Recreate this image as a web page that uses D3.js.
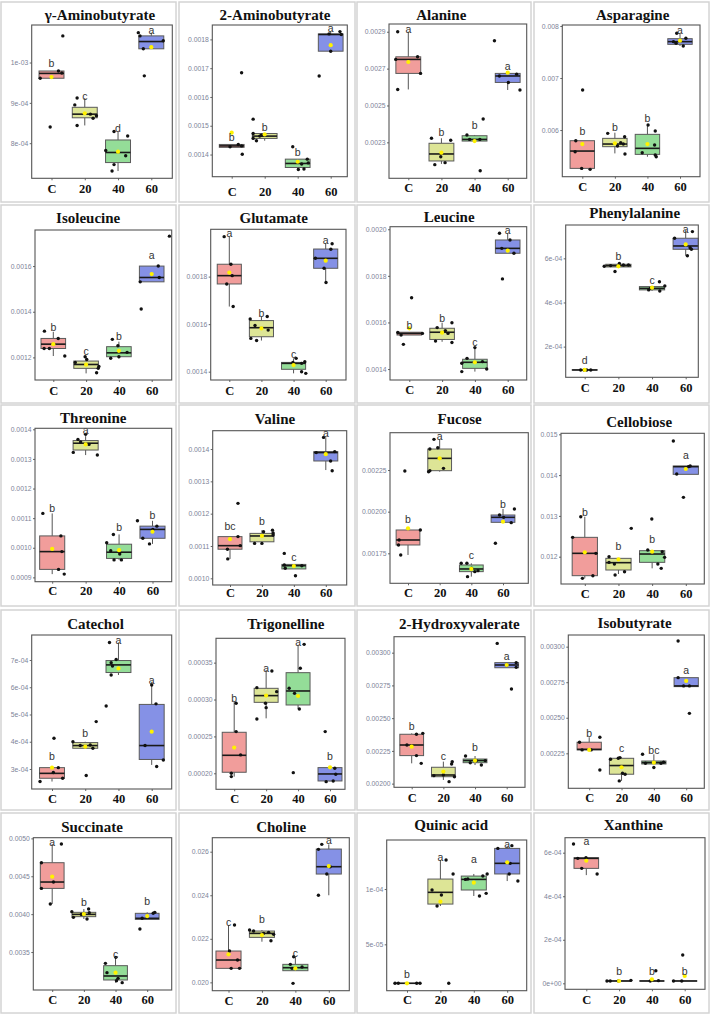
<!DOCTYPE html>
<html><head><meta charset="utf-8">
<script src="https://cdn.jsdelivr.net/npm/d3@7"></script>
<style>body{margin:0;background:#fff}svg{display:block}</style>
</head><body>
<script>
// ---------------- DATA ----------------
const titles = ["γ-Aminobutyrate","2-Aminobutyrate","Alanine","Asparagine",
  "Isoleucine","Glutamate","Leucine","Phenylalanine",
  "Threonine","Valine","Fucose","Cellobiose",
  "Catechol","Trigonelline","2-Hydroxyvalerate","Isobutyrate",
  "Succinate","Choline","Quinic acid","Xanthine"];
const groups = ["C","20","40","60"];

const yTickValues = [
  [0.0008,0.0009,0.001],[0.0014,0.0015,0.0016,0.0017,0.0018],[0.0023,0.0025,0.0027,0.0029],[0.006,0.007,0.008],
  [0.0012,0.0014,0.0016],[0.0014,0.0016,0.0018],[0.0014,0.0016,0.0018,0.002],[0.0002,0.0004,0.0006],
  [0.0009,0.001,0.0011,0.0012,0.0013,0.0014],[0.001,0.0011,0.0012,0.0013,0.0014],[0.00175,0.002,0.00225],[0.012,0.013,0.014,0.015],
  [0.0003,0.0004,0.0005,0.0006,0.0007],[0.0002,0.00025,0.0003,0.00035],[0.002,0.00225,0.0025,0.00275,0.003],[0.00225,0.0025,0.00275,0.003],
  [0.0035,0.004,0.0045,0.005],[0.02,0.022,0.024,0.026],[0.00005,0.0001],[0,0.0002,0.0004,0.0006]];
const yTickLabels = [
  ["8e-04","9e-04","1e-03"],["0.0014","0.0015","0.0016","0.0017","0.0018"],["0.0023","0.0025","0.0027","0.0029"],["0.006","0.007","0.008"],
  ["0.0012","0.0014","0.0016"],["0.0014","0.0016","0.0018"],["0.0014","0.0016","0.0018","0.0020"],["2e-04","4e-04","6e-04"],
  ["0.0009","0.0010","0.0011","0.0012","0.0013","0.0014"],["0.0010","0.0011","0.0012","0.0013","0.0014"],["0.00175","0.00200","0.00225"],["0.012","0.013","0.014","0.015"],
  ["3e-04","4e-04","5e-04","6e-04","7e-04"],["0.00020","0.00025","0.00030","0.00035"],["0.00200","0.00225","0.00250","0.00275","0.00300"],["0.00225","0.00250","0.00275","0.00300"],
  ["0.0035","0.0040","0.0045","0.0050"],["0.020","0.022","0.024","0.026"],["5e-05","1e-04"],["0e+00","2e-04","4e-04","6e-04"]];
const yDomains = [
  [0.000713,0.001093],[0.001323,0.00185],[0.002105,0.002942],[0.005103,0.008019],
  [0.001101,0.001758],[0.001365,0.001999],[0.001353,0.002011],[0.000061,0.000751],
  [0.0008854,0.0014034],[0.0009793,0.0014567],[0.00157,0.002474],[0.01133,0.015025],
  [0.0002266,0.0007917],[0.0001783,0.000383],[0.001972,0.003122],[0.002004,0.003082],
  [0.002999,0.005009],[0.019617,0.026643],[0.0000081,0.0001443],[-0.0000275,0.0006689]];

// box stats per group: [lower whisker, q1, median, q3, upper whisker]
const boxStats = [
  [[0.000961,0.000961,0.000973,0.000979,0.000979],[0.000844,0.000863,0.000872,0.000889,0.000912],[0.000731,0.000752,0.000777,0.000808,0.000829],[0.001034,0.001034,0.001052,0.001066,0.001074]],
  [[0.001425,0.001425,0.00143,0.001435,0.001435],[0.001448,0.001456,0.001464,0.001473,0.001473],[0.001348,0.001355,0.001369,0.001384,0.001384],[0.001759,0.001759,0.001817,0.001819,0.001827]],
  [[0.002587,0.002674,0.00275,0.002764,0.0029],[0.002183,0.002199,0.002237,0.002295,0.002322],[0.002307,0.002307,0.002316,0.002336,0.00234],[0.002584,0.002625,0.00266,0.002674,0.002674]],
  [[0.005244,0.005263,0.005596,0.005795,0.005795],[0.005551,0.00568,0.005731,0.00584,0.005949],[0.005487,0.005532,0.005648,0.005917,0.006096],[0.007615,0.007647,0.007699,0.007756,0.007859]],
  [[0.001206,0.001239,0.001258,0.001283,0.001312],[0.00113,0.001152,0.001169,0.001184,0.001203],[0.001196,0.001203,0.00122,0.001247,0.001269],[0.001531,0.001531,0.00155,0.0016,0.0016]],
  [[0.001674,0.001769,0.001804,0.001852,0.001968],[0.001531,0.001547,0.001585,0.001615,0.001632],[0.001393,0.00141,0.001435,0.001439,0.001456],[0.001775,0.001835,0.001877,0.001916,0.00194]],
  [[0.001546,0.001546,0.001553,0.001558,0.001558],[0.001517,0.001527,0.001558,0.001575,0.001599],[0.001389,0.001403,0.001429,0.001442,0.001492],[0.001897,0.001897,0.001918,0.001954,0.001983]],
  [[0.0000943,0.0000943,0.0000943,0.0000943,0.0000943],[0.000561,0.000561,0.000567,0.000573,0.000577],[0.000452,0.000457,0.000464,0.000472,0.000475],[0.000612,0.000641,0.000656,0.000691,0.000728]],
  [[0.000911,0.000927,0.000987,0.00104,0.001116],[0.001313,0.00133,0.001353,0.001362,0.001377],[0.000959,0.000964,0.000985,0.001012,0.001045],[0.001013,0.001032,0.001062,0.001073,0.001091]],
  [[0.00106,0.00109,0.001101,0.001129,0.001129],[0.001108,0.001113,0.001131,0.001139,0.001149],[0.001029,0.001029,0.001039,0.001043,0.001043],[0.001335,0.001363,0.001389,0.001392,0.001436]],
  [[0.00174,0.0018,0.00183,0.00189,0.00189],[0.00224,0.002246,0.00232,0.002376,0.002434],[0.00161,0.00164,0.001656,0.00168,0.00169],[0.001934,0.001936,0.001966,0.00198,0.002016]],
  [[0.011469,0.011534,0.012082,0.012474,0.01298],[0.011575,0.011673,0.011853,0.011959,0.011959],[0.011714,0.011861,0.012065,0.012147,0.012147],[0.014019,0.014019,0.014207,0.014223,0.014223]],
  [[0.000254,0.000266,0.000284,0.000305,0.000305],[0.000376,0.000376,0.000386,0.000397,0.0004],[0.000645,0.000654,0.000682,0.000698,0.000764],[0.000315,0.000335,0.000386,0.000537,0.00062]],
  [[0.0001955,0.0002014,0.0002244,0.0002556,0.000297],[0.0002745,0.0002962,0.0003053,0.0003152,0.00034],[0.0002872,0.0002926,0.0003116,0.0003364,0.000374],[0.0001887,0.0001896,0.0001991,0.0002077,0.0002077]],
  [[0.002155,0.002214,0.002295,0.002377,0.002384],[0.002028,0.002053,0.002066,0.002125,0.002168],[0.002142,0.00216,0.002176,0.002188,0.002211],[0.002885,0.002885,0.002906,0.002924,0.002924]],
  [[0.002274,0.002274,0.002278,0.002328,0.002363],[0.002056,0.002103,0.002164,0.002215,0.00222],[0.002175,0.002175,0.002185,0.002196,0.002243],[0.002719,0.002719,0.002724,0.002782,0.002782]],
  [[0.004134,0.00434,0.004424,0.004679,0.004925],[0.003936,0.003967,0.003997,0.004024,0.004068],[0.003096,0.003131,0.003184,0.00332,0.003439],[0.003931,0.003931,0.003945,0.004011,0.004024]],
  [[0.020643,0.020643,0.021026,0.021439,0.022633],[0.021867,0.022066,0.02225,0.022357,0.022403],[0.020536,0.020536,0.020673,0.020827,0.021179],[0.024,0.024974,0.025311,0.026122,0.026337]],
  [[0.0000148,0.0000148,0.0000148,0.0000148,0.0000148],[0.0000846,0.0000864,0.000097,0.000109,0.0001262],[0.0000937,0.0000991,0.0001087,0.0001117,0.0001136],[0.0001072,0.0001136,0.0001232,0.0001367,0.000139]],
  [[0.000497,0.000528,0.000574,0.000577,0.000577],[0.0000107,0.0000107,0.0000107,0.0000107,0.0000107],[0.0000107,0.0000107,0.0000107,0.0000107,0.0000107],[0.0000107,0.0000107,0.0000107,0.0000107,0.0000107]]];

const means = [
  [0.000964,0.000874,0.000779,0.001038],[0.001476,0.00147,0.001375,0.00178],[0.002736,0.002244,0.002307,0.002678],[0.005731,0.005744,0.005731,0.007718],
  [0.001258,0.001168,0.001229,0.001565],[0.001817,0.001582,0.001428,0.001867],[0.001575,0.001556,0.001429,0.001908],[0.0000943,0.000564,0.000467,0.000663],
  [0.000996,0.001349,0.000992,0.001054],[0.001121,0.001131,0.001038,0.001384],[0.0019,0.00232,0.001656,0.00194],[0.012106,0.011935,0.012123,0.01415],
  [0.000305,0.000382,0.000669,0.000437],[0.0002348,0.0003053,0.0003048,0.0002081],[0.002282,0.002092,0.002176,0.002906],[0.002274,0.002152,0.002185,0.002759],
  [0.004494,0.004002,0.003228,0.003975],[0.021286,0.022173,0.020643,0.025342],[0.0000148,0.0000886,0.0001057,0.0001241],[0.000563,0.0000107,0.0000184,0.0000337]];

const pointValues = [
  [[0.000961,0.00084,0.000979,0.000974,0.001066],[0.000895,0.000912,0.000844,0.000872,0.000862,0.000868],[0.000782,0.000829,0.000747,0.000731,0.000769,0.000818],[0.001074,0.001066,0.001034,0.000967,0.001054]],
  [[0.001427,0.001435,0.00143,0.001401,0.001684],[0.001523,0.001473,0.001456,0.001448,0.001464,0.001467],[0.001427,0.001348,0.001367,0.00135,0.001384,0.001371],[0.001673,0.001819,0.001759,0.001827,0.001817]],
  [[0.0029,0.00275,0.002587,0.002764,0.002674],[0.002322,0.002179,0.002222,0.00219,0.002311],[0.00234,0.002316,0.002316,0.002427,0.002146],[0.002851,0.00266,0.002625,0.00267,0.002584]],
  [[0.005795,0.005583,0.005263,0.005244,0.006769],[0.005936,0.005692,0.005756,0.005872,0.005538,0.005731],[0.005564,0.006096,0.005712,0.005519,0.005487,0.005981],[0.007859,0.007699,0.007667,0.007615,0.007763]],
  [[0.001315,0.001239,0.001239,0.001283,0.001206],[0.001178,0.001203,0.001191,0.001133,0.001152,0.00116],[0.001196,0.001279,0.001251,0.001203,0.001222],[0.001531,0.001412,0.0016,0.00155,0.001731]],
  [[0.001968,0.001852,0.001804,0.001769,0.001674],[0.001622,0.00154,0.001594,0.001531,0.001632,0.001575],[0.001439,0.001456,0.001435,0.001442,0.0014,0.001393],[0.001877,0.001835,0.001775,0.001915,0.001938]],
  [[0.001557,0.001546,0.001506,0.001706,0.001553],[0.00152,0.001578,0.001565,0.001553,0.001599,0.001514],[0.001425,0.001389,0.001446,0.001492,0.001432,0.0014],[0.001983,0.001918,0.001787,0.001954,0.001897]],
  [[0.0000943,0.0000943,0.0000943,0.0000943],[0.000564,0.00054,0.000577,0.00057,0.00057,0.000567],[0.000457,0.000494,0.000452,0.000475,0.000464],[0.000691,0.000612,0.000648,0.000641,0.000721]],
  [[0.001116,0.00104,0.000987,0.000927,0.000911],[0.001322,0.001366,0.001357,0.001383,0.001349,0.001313],[0.001017,0.00099,0.001045,0.000959,0.000979,0.000959],[0.001091,0.001032,0.001013,0.001062,0.001073]],
  [[0.00109,0.00106,0.001129,0.001101,0.001232],[0.001108,0.001108,0.001144,0.001149,0.001134,0.00114],[0.001077,0.001041,0.001031,0.001008,0.001039],[0.001389,0.001436,0.001363,0.001333,0.001392]],
  [[0.0018,0.00183,0.00174,0.002244,0.00189],[0.00224,0.002246,0.002376,0.002434,0.002384,0.00226],[0.00169,0.00169,0.00161,0.00166,0.00164,0.001646],[0.00181,0.00198,0.001966,0.001934,0.002016]],
  [[0.012474,0.01298,0.011469,0.011534,0.012082],[0.012,0.01186,0.011818,0.011551,0.011632,0.012695],[0.012163,0.012924,0.01182,0.011714,0.012123,0.011984],[0.014837,0.014027,0.013455,0.014207,0.014223]],
  [[0.000254,0.000287,0.000413,0.000305,0.000266],[0.0004,0.000386,0.000276,0.000388,0.000376,0.000474],[0.000531,0.000764,0.00069,0.000645,0.000678,0.000702],[0.000386,0.000608,0.000539,0.000309,0.000333]],
  [[0.0002,0.0001955,0.0002565,0.0002949,0.0002249],[0.0003161,0.0002736,0.0002949,0.000289,0.0003387,0.0003107],[0.0003152,0.0002009,0.0003084,0.0002872,0.0003423,0.0003748],[0.0002565,0.0001896,0.0002068,0.0001987,0.0001887]],
  [[0.002295,0.002214,0.002377,0.002155,0.002384],[0.002061,0.002066,0.002015,0.00215,0.002168,0.002053],[0.002211,0.00216,0.002176,0.002142,0.002176],[0.003071,0.002906,0.002723,0.002924,0.002888]],
  [[0.002328,0.002274,0.002274,0.002363,0.002133],[0.002208,0.002215,0.002056,0.00211,0.002103,0.00222],[0.002243,0.00218,0.00215,0.00218,0.002187],[0.00304,0.002782,0.002724,0.002724,0.002531]],
  [[0.004679,0.00434,0.004134,0.004424,0.004925],[0.004033,0.003958,0.003997,0.003936,0.004068,0.004019],[0.003351,0.003228,0.00343,0.003122,0.003153,0.003096],[0.003804,0.003945,0.004011,0.004024]],
  [[0.021439,0.020643,0.022633,0.021026,0.020643],[0.022403,0.022357,0.02225,0.022296,0.021913,0.022204],[0.020827,0.020643,0.021179,0.019954,0.020704],[0.024,0.026107,0.026337,0.024974,0.025311]],
  [[0.0000148,0.0000148,0.0000148,0.0000148],[0.0000991,0.0000846,0.0000946,0.0001262,0.0000148,0.0001136],[0.0001087,0.000109,0.0000937,0.0001117,0.0000961,0.0001136],[0.0001367,0.0001136,0.0001232,0.0001392,0.0001072]],
  [[0.00064,0.000574,0.000528,0.000502,0.000577],[0.0000107,0.0000107,0.0000107,0.0000137],[0.0000107,0.000058,0.0000122],[0.0000107,0.0000107,0.00013]]];

const letters = [
  ["b","c","d","a"],["b","b","b","a"],["a","b","b","a"],["b","b","b","a"],
  ["b","c","b","a"],["a","b","c","a"],["b","b","c","a"],["d","b","c","a"],
  ["b","a","b","b"],["bc","b","c","a"],["b","a","c","b"],["b","b","b","a"],
  ["b","b","a","a"],["b","a","a","b"],["b","c","b","a"],["b","c","bc","a"],
  ["a","b","c","b"],["c","b","c","a"],["b","a","a","a"],["a","b","b","b"]];
const letterValues = [
  [0.000997,0.000916,0.000837,0.001079],[0.001459,0.001493,0.001406,0.001838],[0.002913,0.002352,0.00239,0.00271],[0.005968,0.006051,0.006224,0.00791],
  [0.001331,0.001228,0.001293,0.001648],[0.001982,0.001646,0.001474,0.001954],[0.001586,0.001618,0.001513,0.001994],[0.00014,0.000611,0.000502,0.000733],
  [0.001133,0.001395,0.001069,0.001111],[0.001162,0.001175,0.001065,0.001448],[0.001954,0.002454,0.001736,0.002044],[0.013079,0.012245,0.012425,0.014493],
  [0.000345,0.000431,0.000773,0.000624],[0.0003017,0.0003423,0.0003771,0.0002235],[0.00244,0.002206,0.002277,0.002975],[0.002391,0.002285,0.002269,0.002836],
  [0.004947,0.004156,0.003474,0.004164],[0.02274,0.022893,0.021332,0.026505],[0.0000232,0.0001286,0.0001271,0.0001407],[0.00065,0.0000566,0.0000566,0.0000566]];

// ---------------- LAYOUT (not data) ----------------
// horizontal jitter of each point, in units of the group step
const jitter = [
  [[-0.34,-0.04,0.21,0.31,0.34],[-0.3,-0.23,-0.23,0.17,0.25,0.35],[-0.37,-0.12,-0.12,-0.18,0.23,0.29],[-0.39,-0.34,-0.24,-0.21,0.36]],
  [[-0.05,0.2,0.3,0.32,0.3],[-0.35,-0.35,-0.35,-0.25,-0.15,-0.1],[-0.15,0.02,0.12,0.19,0.29,0.32],[-0.35,-0.05,0,0.28,0.32]],
  [[-0.32,-0.38,-0.32,0.28,0.37],[-0.3,-0.2,-0.02,0.11,0.28],[-0.23,-0.15,0.16,0.26,0.17],[-0.4,-0.25,0.02,0.27,0.37]],
  [[-0.2,-0.22,-0.02,0.24,0.01],[-0.22,0.08,0.18,0.3,0.31,0.26],[-0.16,0.02,0.22,0.24,0.27,0.24],[-0.1,-0.2,-0.12,0.1,0.18]],
  [[-0.27,-0.28,-0.12,0.15,0.35],[-0.33,-0.03,0.02,0.32,0.37,0.39],[-0.25,-0.2,-0.03,0,0.25],[-0.35,-0.32,0.2,0.23,0.54]],
  [[-0.16,0.05,0.09,-0.08,0.12],[-0.35,-0.33,-0.2,-0.15,0.18,0.21],[-0.02,0.08,0.25,0.35,0.25,0.38],[-0.32,-0.05,0.01,0.16,0.2]],
  [[-0.35,-0.25,-0.18,0.07,0.4],[-0.2,-0.15,0.1,0.18,0.3,0.3],[-0.4,-0.4,-0.24,0,0.23,0.36],[-0.25,-0.18,-0.16,0.07,0.19]],
  [[-0.12,-0.02,0.06,0.18],[-0.42,-0.1,0.03,0.15,0.3,-0.23],[-0.1,0.22,0.23,0.38,-0.05],[-0.33,0.05,0.13,0.17,0.2]],
  [[-0.28,0.26,0.29,0.19,0.36],[-0.37,-0.23,-0.15,0,0.1,0.35],[-0.37,-0.25,-0.17,-0.15,0.02,0.07],[-0.45,-0.29,-0.09,0.01,0.13]],
  [[-0.08,-0.07,0.25,0.32,0.25],[-0.23,0,0.05,0.33,0.35,0.35],[-0.3,-0.3,-0.27,0.05,0.25],[-0.3,-0.07,0.15,0.2,0.28]],
  [[-0.3,-0.28,-0.23,-0.1,0.39],[-0.35,-0.31,-0.31,-0.18,-0.06,0.12],[-0.32,-0.14,-0.12,0.01,0.11,0.21],[-0.24,-0.11,0.02,0.26,0.36]],
  [[-0.36,-0.12,-0.07,0.24,0.33],[-0.28,-0.28,-0.12,-0.1,0.18,0.38],[-0.13,-0.01,0.17,0.27,0.3,0.37],[-0.37,-0.27,-0.07,0.08,0.13]],
  [[-0.36,0.04,0.06,0.19,0.32],[-0.37,-0.15,0.03,0.15,0.23,0.33],[-0.37,-0.27,-0.22,-0.22,-0.18,-0.07],[-0.2,0,0.13,0.15,0.35]],
  [[-0.09,-0.09,0.06,0.06,0.2],[-0.29,-0.29,-0.02,0,0.18,0.33],[-0.28,-0.15,-0.11,0.04,0.07,0.19],[-0.15,0.1,0.15,0.18,-0.12]],
  [[-0.15,0.15,0.15,0.3,0.35],[-0.3,0,0.18,0.26,0.28,0.35],[-0.3,-0.15,0.04,0.2,0.32],[-0.3,0,0.15,0.3,0.3]],
  [[-0.3,-0.22,0.06,0.33,0.33],[-0.34,-0.1,-0.07,0.03,0.11,-0.05],[-0.35,-0.26,0,0.22,0.3],[-0.25,-0.25,-0.08,0.1,0.1]],
  [[-0.34,-0.34,-0.06,0.04,0.29],[-0.38,-0.33,-0.08,0.1,0.15,0.17],[-0.32,-0.27,0.01,0.03,0.08,0.21],[-0.23,-0.16,0.19,0.24]],
  [[0.03,0.08,0.18,0.27,0.33],[-0.37,-0.25,0.05,0.2,0.27,0.35],[-0.15,-0.1,-0.05,-0.07,0.2],[-0.31,-0.31,-0.21,-0.06,0.04]],
  [[-0.36,-0.26,0.29,0.39],[-0.25,-0.1,0.03,0.17,0.25,0.38],[-0.25,-0.18,0.17,0.27,0.37,0.4],[-0.28,0.06,0.09,0.14,0.32]],
  [[-0.39,-0.26,-0.14,0.33,-0.01],[-0.37,-0.27,-0.02,0.36],[-0.05,0.12,0.2],[-0.34,-0.09,-0.06]]];

// [plotLeft, plotTop, plotRight, plotBottom, xFirstGroup, xLastGroup, titleX, titleBaseline, xLabelBaseline]
const panelLayout = [
  [31.7,25,172.3,178.3,51.5,151.3,100,19.5,193],
  [212.3,25,347.3,176.7,231.7,330.7,275,19.5,196],
  [389,24,526.7,178.3,408.3,507.7,441.3,19.5,192.5],
  [562.3,25,700,176.7,582.3,680,632.7,20,191.5],
  [35,230,171.7,380,53.3,151.7,88.2,223,395],
  [210.7,229.3,346,380,229.3,325.7,273.7,223,395],
  [390,226.7,526.7,380,409.3,507.7,449.2,221.7,393.5],
  [565.7,225,698.3,377.3,584.7,685.7,634.7,218.3,392],
  [35,428.3,171.7,581.7,52.2,152.5,93.3,423.3,595],
  [212.7,430.7,346.7,585,230,325.8,275,424,597],
  [390,432.7,528.3,583.3,408,503,459.7,424,597],
  [561,433.3,704.3,584,584.8,685.8,639.2,426.7,598],
  [31.7,635,171.7,789,52,151.7,95.5,629.3,803],
  [216,638.3,345,789.3,234.2,330,285.8,629.3,803],
  [394,636.7,525,787.3,411.7,506.7,459.3,629.3,802],
  [568.3,635,704.3,788.3,589.2,686.2,634.7,628.3,802],
  [33.3,837.7,171.7,990,52.2,147.2,92,831.7,1004],
  [212.3,837.7,349.3,990.7,228.5,328.8,281.2,831.7,1005],
  [386.7,840,526.7,990.7,407,507.2,451.2,830,1004],
  [565,837.7,705,989.3,586.3,684.7,633.3,830,1004]];
const cellCols = [[1,176],[179,355],[357,531],[534,709]];
const cellRows = [[2,202],[205,403],[405,606],[610,810],[813,1013]];
const fills = ["#F19D9B","#DDE596","#94DD98","#8591E6"];

// ---------------- DRAW ----------------
const svg = d3.select("body").append("svg").attr("width",711).attr("height",1016);
svg.append("rect").attr("width",711).attr("height",1016).attr("fill","#fff");

titles.forEach((title,i)=>{
  const [L,T,R,B,x0,x1,tx,ty,ly] = panelLayout[i];
  const col = cellCols[i%4], row = cellRows[Math.floor(i/4)];
  const g = svg.append("g");
  g.append("rect").attr("x",col[0]).attr("y",row[0]).attr("width",col[1]-col[0]).attr("height",row[1]-row[0])
    .attr("fill","#fff").attr("stroke","#d4d4d4").attr("stroke-width",1.5);

  const x = d3.scalePoint().domain(groups).range([x0,x1]);
  const y = d3.scaleLinear().domain(yDomains[i]).range([B,T]);
  const step = x.step();
  const bw = step*0.75;

  groups.forEach((grp,k)=>{
    const [lo,q1,md,q3,hi] = boxStats[i][k];
    const cx = x(grp);
    g.append("line").attr("x1",cx).attr("x2",cx).attr("y1",y(hi)).attr("y2",y(q3)).attr("stroke","#555").attr("stroke-width",1);
    g.append("line").attr("x1",cx).attr("x2",cx).attr("y1",y(q1)).attr("y2",y(lo)).attr("stroke","#555").attr("stroke-width",1);
    g.append("rect").attr("x",cx-bw/2).attr("y",y(q3)).attr("width",bw).attr("height",Math.max(y(q1)-y(q3),0.01))
      .attr("fill",fills[k]).attr("stroke","#5a5a5a").attr("stroke-width",1);
    g.append("line").attr("x1",cx-bw/2).attr("x2",cx+bw/2).attr("y1",y(md)).attr("y2",y(md)).attr("stroke","#1a1a1a").attr("stroke-width",1.6);
  });
  groups.forEach((grp,k)=>{
    const cx = x(grp);
    pointValues[i][k].forEach((v,j)=>{
      const dx = (jitter[i][k][j] ?? 0)*step;
      g.append("circle").attr("cx",cx+dx).attr("cy",y(v)).attr("r",1.7).attr("fill","#111");
    });
    g.append("circle").attr("cx",cx).attr("cy",y(means[i][k])).attr("r",2.1).attr("fill","#FFF200");
    g.append("text").attr("x",cx).attr("y",y(letterValues[i][k])).attr("dy","0.35em")
      .attr("text-anchor","middle").attr("font-family","'Liberation Sans', Arial, sans-serif")
      .attr("font-size",10.5).attr("fill","#333").text(letters[i][k]);
  });

  // axes
  const ay = g.append("g").attr("transform",`translate(${L},0)`)
    .call(d3.axisLeft(y).tickValues(yTickValues[i]).tickFormat((d,j)=>yTickLabels[i][j]).tickSize(2).tickPadding(1.5));
  ay.select(".domain").remove();
  ay.selectAll("line").attr("stroke","#666");
  ay.selectAll("text").attr("font-family","'Liberation Sans', Arial, sans-serif").attr("font-size",6.8).attr("fill","#7d8398");

  const ax = g.append("g").attr("transform",`translate(0,${B})`)
    .call(d3.axisBottom(x).tickSize(2).tickPadding(2));
  ax.select(".domain").remove();
  ax.selectAll("line").attr("stroke","#666");
  ax.selectAll("text").attr("y",ly-B).attr("dy",null)
    .attr("font-family","'Liberation Serif', 'Times New Roman', serif").attr("font-weight","bold")
    .attr("font-size",12.5).attr("fill","#111");

  g.append("rect").attr("x",L).attr("y",T).attr("width",R-L).attr("height",B-T)
    .attr("fill","none").attr("stroke","#555").attr("stroke-width",1.1);

  g.append("text").attr("x",tx).attr("y",ty).attr("text-anchor","middle")
    .attr("font-family","'Liberation Serif', 'Times New Roman', serif").attr("font-weight","bold")
    .attr("font-size",15).attr("fill","#111").text(title);
});
</script>
</body></html>
